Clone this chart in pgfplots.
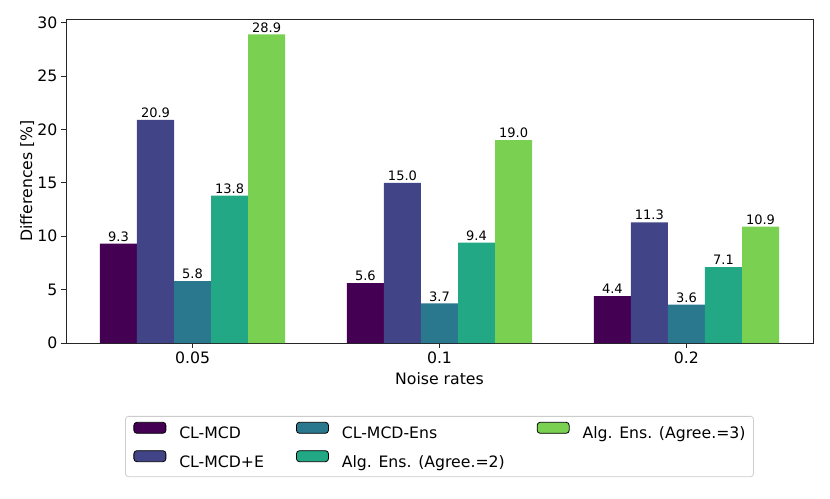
\documentclass[border=0pt]{standalone}
\usepackage{pgfplots}
\pgfplotsset{compat=1.18}
\usepackage{fontspec}
\setmainfont{DejaVu Sans}
\definecolor{v1}{HTML}{440154}
\definecolor{v2}{HTML}{414487}
\definecolor{v3}{HTML}{2A788E}
\definecolor{v4}{HTML}{22A884}
\definecolor{v5}{HTML}{7AD151}
\newcommand{\fs}{\fontsize{15.7}{18}\selectfont}
\begin{document}
\begin{tikzpicture}
\path[use as bounding box] (0pt,0pt) rectangle (830pt,498pt);
\begin{axis}[
  at={(66pt,155pt)}, anchor=south west,
  scale only axis, width=747pt, height=324pt,
  xmin=-0.5125, xmax=2.5125, ymin=0, ymax=30.345,
  xtick={0,1,2}, xticklabels={0.05,0.1,0.2},
  ytick={0,5,...,30},
  tick align=outside, tick pos=left, major tick length=5pt,
  axis line style={line width=0.9pt, black!85},
  every tick/.style={line width=0.9pt, black!85},
  ticklabel style={font=\fs},
  /pgf/number format/assume math mode=true,
  xlabel={Noise rates}, ylabel={Differences [\%]},
  every axis x label/.style={at={(axis description cs:0.5,-0.1296)}, anchor=base, font=\fs},
  every axis y label/.style={at={(axis description cs:-0.0455,0.5)}, rotate=90, anchor=base, font=\fs},
  ybar=0pt, bar width=0.15,
  nodes near coords,
  nodes near coords style={font=\fontsize{13}{15}\selectfont, inner sep=2pt,
    /pgf/number format/fixed, /pgf/number format/fixed zerofill,
    /pgf/number format/precision=1},
  legend columns=3,
  legend cell align=left,
  legend style={at={(axis description cs:0.5,-0.2253)}, anchor=north,
    draw=black!20, line width=0.8pt, rounded corners=3pt,
    font=\fs, row sep=7.5pt, inner xsep=8pt, inner ysep=5.5pt,
    nodes={inner sep=0pt, text height=13pt, text depth=4pt},
    /tikz/every odd column/.append style={column sep=13pt},
    /tikz/every even column/.append style={column sep=32pt}},
  legend image code/.code={\fill[#1] (0pt,1pt) rectangle (32pt,12pt);},
]
\addplot[fill=v1, draw=none, bar shift=-0.3, forget plot] coordinates {(0,9.3) (1,5.6) (2,4.4)};
\addplot[fill=v2, draw=none, bar shift=-0.15, forget plot] coordinates {(0,20.9) (1,15.0) (2,11.3)};
\addplot[fill=v3, draw=none, bar shift=0, forget plot] coordinates {(0,5.8) (1,3.7) (2,3.6)};
\addplot[fill=v4, draw=none, bar shift=0.15, forget plot] coordinates {(0,13.8) (1,9.4) (2,7.1)};
\addplot[fill=v5, draw=none, bar shift=0.3, forget plot] coordinates {(0,28.9) (1,19.0) (2,10.9)};
\addlegendimage{fill=v1}\addlegendentry{CL-MCD}
\addlegendimage{fill=v3}\addlegendentry{CL-MCD-Ens}
\addlegendimage{fill=v5}\addlegendentry{Alg. Ens. (Agree.=3)}
\addlegendimage{fill=v2}\addlegendentry{CL-MCD+E}
\addlegendimage{fill=v4}\addlegendentry{Alg. Ens. (Agree.=2)}
\end{axis}
\end{tikzpicture}
\end{document}
